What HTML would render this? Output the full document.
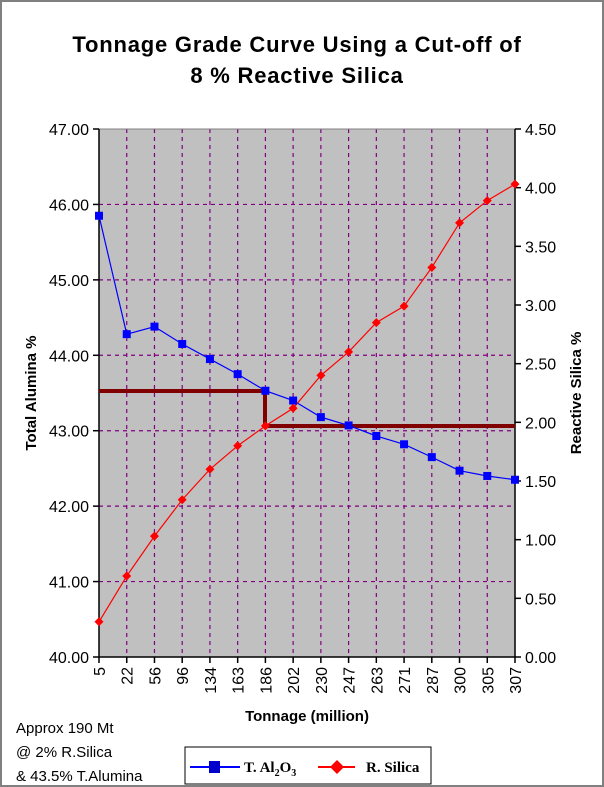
<!DOCTYPE html>
<html><head><meta charset="utf-8"><style>
body{margin:0;background:#fff}
svg{display:block}
text{font-family:"Liberation Sans",Arial,sans-serif;fill:#000}
</style></head><body>
<svg width="604" height="787" viewBox="0 0 604 787" xmlns="http://www.w3.org/2000/svg">
<rect x="1" y="1" width="602" height="785" fill="#fff" stroke="#808080" stroke-width="2"/>
<text x="297" y="52" text-anchor="middle" font-size="22" font-weight="bold" letter-spacing="0.8">Tonnage Grade Curve Using a Cut-off of</text>
<text x="297" y="83" text-anchor="middle" font-size="22" font-weight="bold" letter-spacing="0.8">8 % Reactive Silica</text>
<rect x="99" y="129" width="416" height="528" fill="#c0c0c0"/>
<g id="grid" stroke="#800080" stroke-width="1.2" stroke-dasharray="4,4"></g>
<rect x="99" y="129" width="416" height="528" fill="none" stroke="#808080" stroke-width="1"/>
<line x1="99" y1="129" x2="99" y2="657" stroke="#000" stroke-width="1.5"/>
<line x1="515" y1="129" x2="515" y2="657" stroke="#000" stroke-width="1.5"/>
<line x1="99" y1="657" x2="515" y2="657" stroke="#000" stroke-width="1.5"/>
<g id="ticks" stroke="#000" stroke-width="1.5"></g>
<g id="labels" font-size="16"></g>
<polyline points="99,391 265,391 265,426 515,426" fill="none" stroke="#800000" stroke-width="4"/>
<polyline id="al" fill="none" stroke="#0000ff" stroke-width="1.2"/>
<polyline id="si" fill="none" stroke="#ff0000" stroke-width="1.2"/>
<g id="mk"></g>
<text transform="translate(36,393) rotate(-90)" text-anchor="middle" font-size="15" font-weight="bold">Total Alumina %</text>
<text transform="translate(581,393) rotate(-90)" text-anchor="middle" font-size="15" font-weight="bold">Reactive Silica %</text>
<text x="307" y="721" text-anchor="middle" font-size="15" font-weight="bold">Tonnage (million)</text>
<text x="16" y="733" font-size="15">Approx 190 Mt</text>
<text x="16" y="757" font-size="15">@ 2% R.Silica</text>
<text x="16" y="781" font-size="15">&amp; 43.5% T.Alumina</text>
<rect x="185" y="747" width="246" height="37" fill="#fff" stroke="#000" stroke-width="1"/>
<line x1="190" y1="767" x2="240" y2="767" stroke="#0000ff" stroke-width="2"/>
<rect x="209" y="761" width="11" height="12" fill="#0000cc"/>
<text x="244" y="772" font-size="15" font-weight="bold" style="font-family:'Liberation Serif',serif">T. Al<tspan font-size="10" dy="4">2</tspan><tspan dy="-4">O</tspan><tspan font-size="10" dy="4">3</tspan></text>
<line x1="318" y1="767" x2="355" y2="767" stroke="#ff0000" stroke-width="2"/>
<polygon points="337,760 344,767 337,774 330,767" fill="#ff0000"/>
<text x="366" y="772" font-size="15" font-weight="bold" style="font-family:'Liberation Serif',serif">R. Silica</text>
</svg>
<script>
const ns="http://www.w3.org/2000/svg";
const L=99,R=515,T=129,B=657,W=R-L,H=B-T;
const cats=[5,22,56,96,134,163,186,202,230,247,263,271,287,300,305,307];
const al=[45.85,44.28,44.38,44.15,43.95,43.75,43.53,43.40,43.18,43.07,42.93,42.82,42.65,42.47,42.40,42.35];
const si=[0.3,0.69,1.03,1.34,1.6,1.8,1.97,2.12,2.4,2.6,2.85,2.99,3.32,3.7,3.89,4.03];
const X=i=>L+i*W/15, YA=v=>B-(v-40)/7*H, YS=v=>B-v/4.5*H;
function el(p,t,a,txt){const e=document.createElementNS(ns,t);for(const k in a)e.setAttribute(k,a[k]);if(txt!=null)e.textContent=txt;document.getElementById(p).appendChild(e);return e;}
for(let i=1;i<15;i++)el("grid","line",{x1:X(i),y1:T,x2:X(i),y2:B});
for(let j=1;j<7;j++)el("grid","line",{x1:L,y1:YA(40+j),x2:R,y2:YA(40+j)});
for(let j=0;j<=7;j++){const y=YA(40+j);el("ticks","line",{x1:L-6,y1:y,x2:L,y2:y});el("labels","text",{x:L-10,y:y+6,"text-anchor":"end"},(40+j).toFixed(2));}
for(let j=0;j<=9;j++){const y=YS(j*0.5);el("ticks","line",{x1:R,y1:y,x2:R+6,y2:y});el("labels","text",{x:R+10,y:y+6},(j*0.5).toFixed(2));}
cats.forEach((c,i)=>{const x=X(i);el("ticks","line",{x1:x,y1:B,x2:x,y2:B+6});el("labels","text",{transform:`translate(${x+6},${B+10}) rotate(-90)`,"text-anchor":"end"},c);});
document.getElementById("al").setAttribute("points",al.map((v,i)=>X(i)+","+YA(v)).join(" "));
document.getElementById("si").setAttribute("points",si.map((v,i)=>X(i)+","+YS(v)).join(" "));
al.forEach((v,i)=>el("mk","rect",{x:X(i)-4,y:YA(v)-4,width:8,height:8,fill:"#0000ff"}));
si.forEach((v,i)=>{const x=X(i),y=YS(v);el("mk","polygon",{points:`${x},${y-4.5} ${x+4.5},${y} ${x},${y+4.5} ${x-4.5},${y}`,fill:"#ff0000"});});
</script>
</body></html>
